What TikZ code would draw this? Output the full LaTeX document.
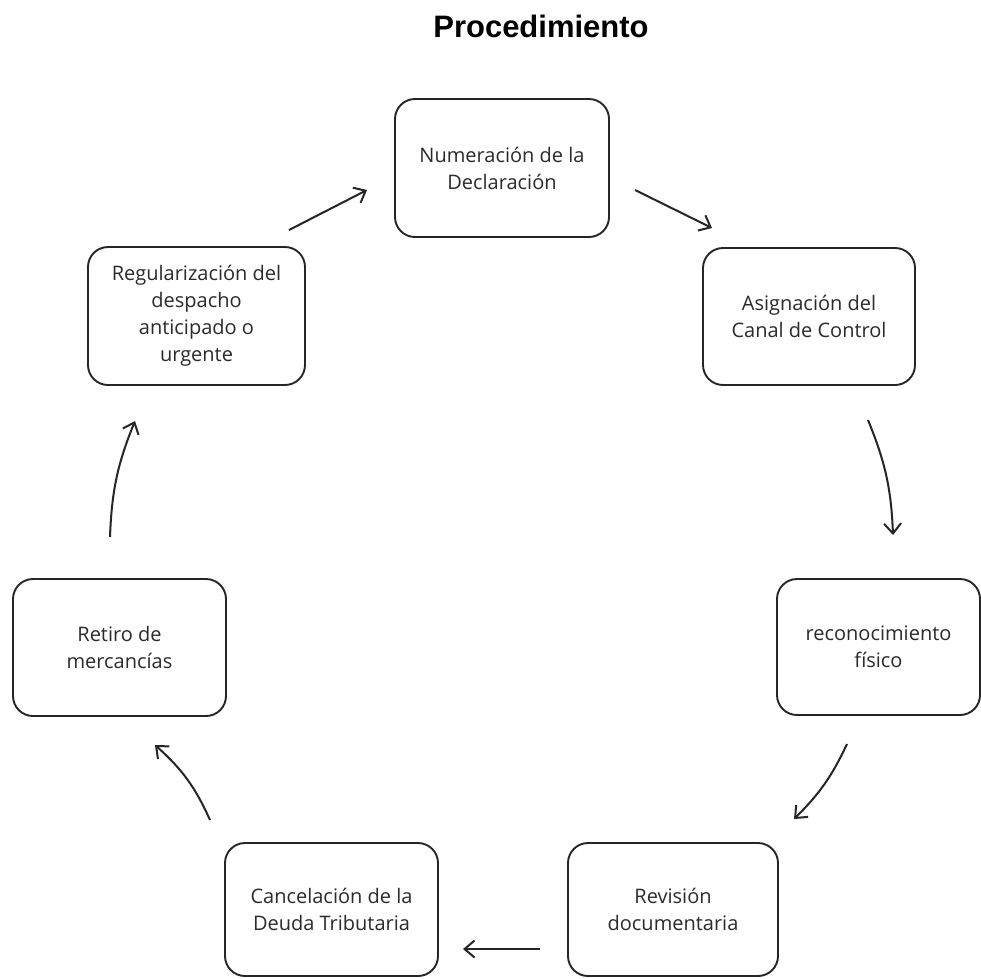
\documentclass[tikz,border=0pt]{standalone}
\usepackage{fontspec}
\setmainfont{Open Sans}
\newfontfamily\titlefont{Liberation Sans}
\usetikzlibrary{arrows.meta}
\definecolor{boxline}{HTML}{262626}
\definecolor{boxtext}{HTML}{2B2B2B}
\begin{document}
\begin{tikzpicture}[x=1pt,y=-1pt,
  stepbox/.style={draw=boxline, line width=1.9pt, rounded corners=20pt, inner sep=0pt,
    text=boxtext, align=center, font=\fontsize{20}{27}\selectfont},
  conn/.style={draw=boxline, line width=2pt,
    -{Straight Barb[length=10pt,width=17pt,line width=2pt]}}]
\fill[white] (0,0) rectangle (981,978);
\useasboundingbox (0,0) rectangle (981,978);

\node[font=\titlefont\bfseries\fontsize{31}{37}\selectfont, anchor=base] (title) at (541,37) {Procedimiento};

\node[stepbox, minimum width=214pt, minimum height=138pt] (numer) at (502,168) {Numeración de la\\Declaración};
\node[stepbox, minimum width=212pt, minimum height=137pt] (asign) at (809,316.5) {Asignación del\\Canal de Control};
\node[stepbox, minimum width=203pt, minimum height=136pt] (recon) at (878.5,647) {reconocimiento\\físico};
\node[stepbox, minimum width=210pt, minimum height=133pt] (revis) at (673,909.5) {Revisión\\documentaria};
\node[stepbox, minimum width=213pt, minimum height=133pt] (cancel) at (331.5,909.5) {Cancelación de la\\Deuda Tributaria};
\node[stepbox, minimum width=213pt, minimum height=137pt] (retiro) at (119.5,647.5) {Retiro de\\mercancías};
\node[stepbox, minimum width=217pt, minimum height=138pt] (regul) at (196.5,316) {Regularización del\\despacho\\anticipado o\\urgente};

\coordinate (a1s) at (289,230); \coordinate (a1e) at (367,190);
\coordinate (a2s) at (635,190); \coordinate (a2e) at (712,228);
\coordinate (a3s) at (868,420); \coordinate (a3e) at (893,535);
\coordinate (a4s) at (847,744); \coordinate (a4e) at (794,819);
\coordinate (a5s) at (540,949); \coordinate (a5e) at (463,949);
\coordinate (a6s) at (210,820); \coordinate (a6e) at (155,745);
\coordinate (a7s) at (110,537); \coordinate (a7e) at (135,421);

\draw[conn] (a1s) -- (a1e);
\draw[conn] (a2s) -- (a2e);
\draw[conn] (a3s) to[bend left=10] (a3e);
\draw[conn] (a4s) to[bend left=10] (a4e);
\draw[conn] (a5s) -- (a5e);
\draw[conn] (a6s) to[bend right=12] (a6e);
\draw[conn] (a7s) to[bend left=10] (a7e);
\end{tikzpicture}
\end{document}
